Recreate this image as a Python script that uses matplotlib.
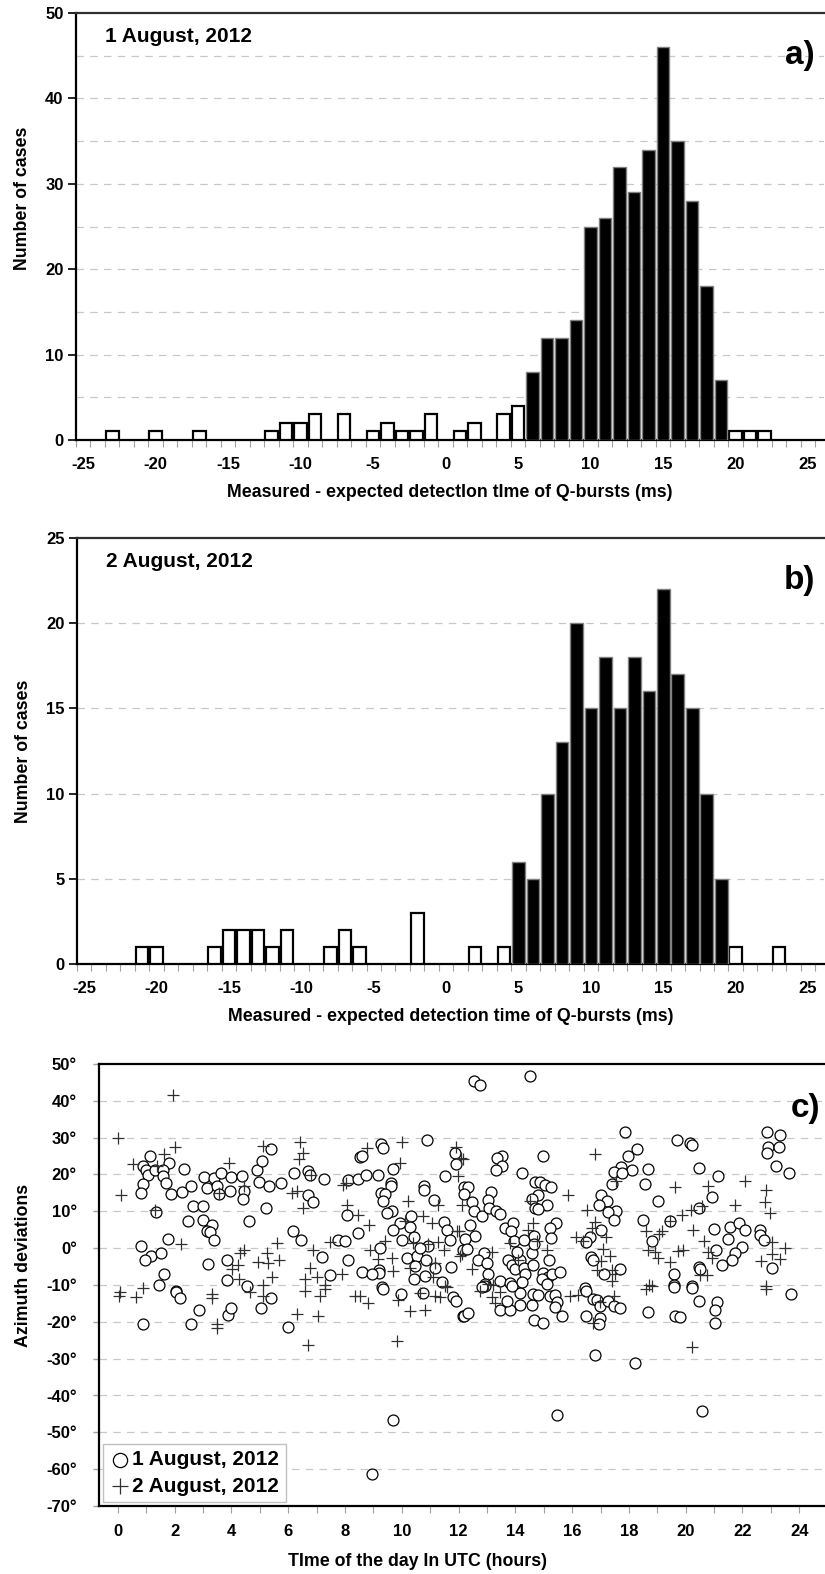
import matplotlib
matplotlib.use("Agg")
import matplotlib.pyplot as plt
import numpy as np

plt.rcParams['font.family'] = ['Liberation Sans', 'DejaVu Sans']
plt.rcParams['font.weight'] = 'bold'
plt.rcParams['axes.labelweight'] = 'bold'
plt.rcParams['axes.unicode_minus'] = False

# ---- panel a: 1 August 2012 ----
a_white_bins = [-23, -20, -17, -12, -11, -10, -9, -7, -5, -4, -3, -2, -1, 1, 2, 4, 5, 20, 21, 22]
a_white_counts = [1, 1, 1, 1, 2, 2, 3, 3, 1, 2, 1, 1, 3, 1, 2, 3, 4, 1, 1, 1]
a_black_bins = [6, 7, 8, 9, 10, 11, 12, 13, 14, 15, 16, 17, 18, 19]
a_black_counts = [8, 12, 12, 14, 25, 26, 32, 29, 34, 46, 35, 28, 18, 7]

# ---- panel b: 2 August 2012 ----
b_white_bins = [-21, -20, -16, -15, -14, -13, -12, -11, -8, -7, -6, -2, 2, 4, 20, 23]
b_white_counts = [1, 1, 1, 2, 2, 2, 1, 2, 1, 2, 1, 3, 1, 1, 1, 1]
b_black_bins = [5, 6, 7, 8, 9, 10, 11, 12, 13, 14, 15, 16, 17, 18, 19]
b_black_counts = [6, 5, 10, 13, 20, 15, 18, 15, 18, 16, 22, 17, 15, 10, 5]

x_ticks_ms = [-25, -20, -15, -10, -5, 0, 5, 10, 15, 20, 25]

# ---- panel c: azimuth deviations vs time of day ----
aug1_hour = [1.14, 1.81, 0.90, 0.98, 1.08, 1.31, 1.61, 1.61, 1.69, 0.90, 0.82, 1.88, 2.25, 2.57, 2.32,
             1.34, 2.64, 3.01, 2.49, 3.01, 3.33, 3.13, 3.25, 3.39, 3.05, 3.40, 3.64, 3.99, 4.36, 3.14,
             3.48, 3.58, 3.95, 4.45, 4.40, 4.92, 5.07, 5.39, 4.99, 5.33, 5.75, 5.21, 4.62, 0.82, 1.78,
             1.17, 0.96, 1.52, 1.64, 1.45, 2.05, 3.19, 3.84, 3.84, 4.54, 6.20, 6.71, 6.77, 7.28, 6.69,
             6.86, 6.16, 6.45, 7.18, 7.47, 7.77, 8.00, 8.12, 8.12, 8.47, 8.73, 8.53, 8.61, 9.27, 9.35,
             9.15, 9.68, 9.62, 9.61, 9.27, 9.41, 9.35, 9.65, 9.47, 8.06, 8.47, 10.88, 10.78, 10.78, 11.52,
             11.88, 11.91, 11.15, 10.33, 9.94, 10.29, 9.68, 10.44, 10.00, 11.50, 11.58, 11.70, 10.94, 9.23,
             10.17, 10.53, 10.64, 10.85, 10.47, 9.21, 9.20, 8.59, 8.94, 10.44, 10.82, 11.17, 11.41, 11.72,
             12.17, 12.20,
             12.56, 12.74, 14.51, 17.87, 19.69, 20.15, 20.21, 22.88, 23.32, 22.91, 23.29, 22.88, 23.18, 23.62,
             18.28, 17.96, 17.73, 18.10, 17.48, 17.75, 18.66, 18.55, 17.42, 17.02, 17.22, 16.96, 17.55, 17.28,
             17.48, 19.02, 18.49, 19.45, 20.48, 21.12, 20.92, 20.47, 21.01, 21.56, 21.86, 22.09, 21.48, 21.97,
             21.74, 21.62, 22.60, 22.62, 22.74, 23.03, 21.27, 21.06, 20.48, 20.51, 19.59, 19.59, 20.21, 18.83,
             16.63, 16.49, 17.00, 16.67, 16.72, 17.14, 17.67, 16.46, 14.99, 14.23, 13.52, 13.35, 13.52, 13.32,
             12.35, 12.21, 12.47, 12.53, 12.82, 13.15, 13.05, 13.09, 13.31, 13.46, 12.41, 12.58, 12.23, 12.29,
             12.88, 12.68, 13.02, 13.05, 12.94, 13.46, 13.82, 13.64, 13.93, 13.85, 13.97, 14.32, 13.73, 13.88,
             13.99, 14.17, 14.29, 14.34, 14.58, 14.64, 14.05, 14.70, 14.87, 15.05, 15.25, 14.81, 14.58, 15.11,
             14.70, 14.79, 15.44, 15.23, 15.25, 15.20, 14.66, 14.66, 14.99, 15.14, 15.28, 15.58, 14.95,
             0.90, 2.05, 2.19, 2.58, 2.86, 3.89, 3.98, 5.03, 5.39, 6.01, 9.29, 9.35, 9.97, 10.76, 11.82,
             11.90, 12.17, 9.68, 8.94,
             12.21, 12.35, 12.94, 12.82, 13.46, 13.82, 13.70, 14.17, 14.17, 14.58, 14.67, 14.99, 13.88, 14.23,
             14.64, 14.81, 15.11, 15.23, 15.38, 15.46, 15.38, 15.64, 16.48, 16.49, 16.72, 16.87, 16.99, 16.99,
             16.93, 17.26, 17.46, 17.67, 18.66, 19.60, 20.21, 20.48, 19.63, 19.80, 21.09, 21.03, 21.03, 23.71,
             16.79, 18.22, 15.48, 20.59]
aug1_dev = [25.0, 23.2, 22.3, 21.3, 19.9, 21.3, 21.1, 19.5, 17.7, 17.4, 15.0, 14.8, 15.2, 16.8, 21.4,
            9.8, 11.4, 11.4, 7.5, 7.7, 6.2, 4.6, 4.4, 2.2, 19.2, 19.0, 20.5, 19.3, 19.5, 16.3,
            16.8, 14.8, 15.6, 15.6, 13.3, 21.1, 23.7, 26.9, 17.9, 16.8, 17.7, 10.9, 7.5, 0.7, 2.5,
            -2.2, -3.1, -1.3, -7.1, -10.1, -11.5, -4.2, -3.3, -8.7, -10.3, 20.5, 21.0, 19.9, 18.7, 14.5,
            12.4, 4.6, 2.1, -2.4, -7.3, 2.3, 1.9, -3.1, 18.6, 18.7, 19.9, 24.7, 24.9, 28.2, 27.3,
            19.9, 21.4, 17.8, 16.8, 15.1, 14.8, 12.9, 10.0, 9.5, 8.9, 4.0, 29.5, 17.0, 15.9, 19.5,
            25.8, 22.9, 13.0, 8.6, 6.8, 5.8, 4.8, 3.1, 2.3, 7.1, 5.0, 2.3, 0.6, 0.1,
            -2.6, -2.2, 0.1, -3.1, -4.9, -5.9, -6.7, -6.5, -7.1, -8.5, -7.6, -5.3, -9.1, -5.1,
            -0.4, 16.5,
            45.3, 44.4, 46.8, 31.6, 29.5, 28.5, 28.0, 31.6, 30.7, 27.4, 27.4, 25.8, 22.4, 20.4,
            26.9, 25.0, 22.0, 21.3, 20.6, 20.5, 21.5, 17.4, 17.4, 14.3, 12.7, 11.8, 10.0, 9.7,
            7.7, 12.9, 7.7, 7.3, 21.7, 19.6, 13.9, 10.9, 5.3, 5.7, 6.7, 5.0, 2.5, 0.4,
            -1.4, -3.2, 4.9, 3.7, 2.3, -5.3, -4.7, -0.5, -5.1, -5.6, -6.9, -10.1, -10.3, 1.9,
            3.0, 1.6, 5.0, -2.4, -3.1, -7.1, -5.6, -10.7, 24.9, 20.5, 25.0, 24.4, 22.4, 21.3,
            16.6, 14.7, 12.4, 10.0, 8.6, 15.2, 13.0, 10.9, 10.0, 9.3, 6.4, 3.4, 2.5, -0.2,
            -1.3, -3.2, -4.1, -7.1, -9.8, -8.9, -9.4, 5.5, 6.8, 4.6, 1.9, 2.1, -3.1, -4.7,
            -5.6, -3.1, -5.3, -7.1, -1.3, -4.7, -1.1, 17.9, 17.9, 17.2, 16.5, 14.5, 13.3, 11.8,
            10.9, 10.5, 6.8, 5.5, 2.8, -3.3, 3.2, 1.2, -6.7, -7.7, -7.1, -6.4, -8.5,
            -20.5, -12.0, -13.5, -20.5, -16.9, -18.1, -16.2, -16.2, -13.5, -21.4, -10.5, -11.1, -12.4, -12.3, -13.2,
            -14.4, -18.5, -46.7, -61.3,
            -18.5, -17.6, -10.2, -10.6, -16.8, -16.8, -14.4, -15.3, -12.3, -15.3, -19.6, -20.4, -10.2, -9.3,
            -12.5, -12.6, -9.7, -12.9, -12.6, -14.7, -15.9, -18.3, -11.7, -18.3, -13.8, -14.2, -15.6, -18.9,
            -20.5, -14.4, -15.6, -16.2, -17.4, -10.6, -10.9, -14.4, -18.3, -18.7, -14.7, -16.9, -20.3, -12.4,
            -29.1, -31.1, -45.3, -44.2]

aug2_hour = [1.96, 0.00, 2.02, 1.64, 0.53, 1.37, 0.10, 1.31, 3.93, 3.58, 4.46, 2.23, 5.10, 6.42, 6.54,
             6.38, 6.12, 6.30, 6.54, 6.80, 5.60, 4.46, 4.30, 5.24, 5.69, 4.95, 5.30, 4.01, 4.25, 4.28,
             5.42, 5.13, 6.89, 6.77, 6.59, 7.00, 7.30, 7.89, 7.47, 8.03, 7.94, 8.08, 8.47, 8.86, 8.77,
             10.02, 9.94, 10.21, 8.88, 9.41, 9.18, 9.65, 9.70, 10.12, 10.76, 11.08, 11.29, 11.90, 12.10, 11.97,
             12.13, 11.93, 10.41, 10.94, 11.29, 11.50, 12.05, 10.29, 11.17, 11.11, 11.52, 0.90, 0.08,
             16.79, 15.85, 16.52, 16.79, 16.69, 17.55, 19.63, 20.78, 22.09, 22.83, 22.80, 22.97, 21.72, 20.59,
             20.19, 19.86, 19.45, 19.16, 18.59, 19.06, 20.25, 20.66, 16.13, 16.38, 17.20, 17.08, 17.34, 17.02,
             16.87, 17.40, 17.51, 18.66, 18.92, 19.02, 19.45, 19.72, 19.92, 20.77, 20.92, 20.51, 20.74, 23.03,
             23.50, 22.65, 23.03, 23.32, 22.82, 18.69, 13.17, 12.47, 12.11, 12.00, 12.17, 14.52, 14.64,
             14.46, 14.76, 15.11, 14.11, 13.82, 13.23,
             0.06, 0.64, 3.31, 3.31, 3.48, 3.48, 4.66, 5.13, 6.59, 6.30, 7.06, 6.71, 7.12, 7.30, 8.35,
             8.53, 8.80, 9.88, 9.82, 10.29, 10.82, 10.64, 11.17, 11.35, 11.58,
             12.76, 13.05, 13.17, 13.29, 13.46, 15.93, 16.22, 16.72, 16.99, 17.49, 17.40, 18.59, 18.80, 20.21,
             22.82]
aug2_dev = [41.7, 29.8, 27.6, 25.6, 22.9, 22.2, 14.4, 10.3, 23.1, 15.1, 16.8, 1.1, 27.7, 28.7, 25.8,
            24.2, 15.0, 15.4, 10.9, 19.9, 1.4, -0.4, -1.3, -1.3, -3.3, -3.8, -4.1, -5.6, -4.7, -8.3,
            -7.8, -10.1, -0.4, -5.3, -8.3, -7.7, -10.1, -7.1, 1.7, 17.7, 17.2, 11.8, 8.9, 6.4, 27.1,
            28.9, 23.1, 12.9, -0.5, 1.9, -3.0, -2.6, -6.2, 7.3, 8.8, 6.7, 11.6, 27.4, 24.4, 19.5,
            11.6, 4.6, 1.4, 1.0, 1.7, -0.4, -2.0, -5.3, -4.1, -7.7, -10.3, -10.7, -12.0,
            25.5, 14.5, 10.3, 7.0, 5.5, 18.1, 16.5, 16.8, 18.1, 15.7, 12.4, 9.5, 11.8, 11.4,
            10.3, 8.9, 7.3, 4.6, 4.6, 3.9, 4.9, 1.9, 3.1, 1.9, 3.1, -0.2, -2.2, -3.5,
            -5.8, -5.8, -7.1, -0.4, -1.0, -2.6, -3.8, -0.8, -0.4, -1.0, -2.6, -7.4, -7.4, 1.6,
            0.1, -3.5, -1.7, -2.9, -10.3, -10.1, -1.0, -5.6, -1.7, 4.6, 24.1, 12.7, 6.8,
            5.0, 1.9, -0.4, -3.2, 1.4, -10.1,
            -12.9, -13.3, -12.4, -13.5, -20.5, -21.7, -12.0, -12.9, -11.5, -17.8, -18.3, -26.4, -12.9, -11.1, -12.9,
            -12.9, -15.0, -14.1, -25.2, -17.1, -16.9, -12.3, -12.9, -13.3, -10.5,
            -11.5, -9.7, -13.3, -14.9, -12.0, -12.9, -12.6, -20.4, -14.7, -12.9, -9.0, -11.1, -10.2, -26.8,
            -11.1]
hour_ticks = list(range(0, 25, 2))
deg_ticks = list(range(-70, 51, 10))

fig = plt.figure(figsize=(8.25, 15.74), dpi=100)
W, H = 825.0, 1574.0


def add_ax(l, t, r, b):
    return fig.add_axes([l / W, 1 - b / H, (r - l) / W, (b - t) / H])


grid_kw = dict(color='#c8c8c8', linestyle=(0, (6, 5)), linewidth=0.9)


def hist_panel(ax, wb, wc, bb, bc, ymax, ystep, gridstep, date, tag, xlabel, ylab_y):
    ax.bar(wb, wc, width=0.87, color='white', edgecolor='black', linewidth=1.6, zorder=3)
    ax.bar(bb, bc, width=0.87, color='black', edgecolor='#808080', linewidth=1.0, zorder=3)
    ax.set_xlim(-25.5, 26.1)
    ax.set_ylim(0, ymax)
    ax.set_yticks(np.arange(0, ymax + 1, ystep))
    for g in np.arange(gridstep, ymax, gridstep):
        ax.axhline(g, zorder=1, **grid_kw)
    ax.set_xticks(x_ticks_ms)
    ax.set_xticks(np.arange(-25.5, 26, 1), minor=True)
    ax.tick_params(axis='x', which='major', length=0, labelsize=12, pad=12)
    ax.tick_params(axis='x', which='minor', length=5, color='#a0a0a0', width=0.8)
    ax.tick_params(axis='y', length=6, width=1.2, labelsize=12, pad=3)
    for s in ['left', 'bottom']:
        ax.spines[s].set_linewidth(1.6)
    ax.spines['top'].set_linewidth(1.6)
    ax.spines['top'].set_color('#303030')
    ax.spines['right'].set_visible(False)
    ax.set_ylabel('Number of cases', fontsize=12.8)
    ax.yaxis.set_label_coords(-0.06, ylab_y)
    ax.set_xlabel(xlabel, fontsize=12.8, labelpad=9)
    ax.text(0.039, 0.945, date, transform=ax.transAxes, fontsize=15, ha='left', va='center')
    ax.text(0.988, 0.9, tag, transform=ax.transAxes, fontsize=24, ha='right', va='center')


ax1 = add_ax(76, 13, 824, 440)
hist_panel(ax1, a_white_bins, a_white_counts, a_black_bins, a_black_counts, 50, 10, 5,
           '1 August, 2012', 'a)', 'Measured - expected detectIon tIme of Q-bursts (ms)', 0.567)

ax2 = add_ax(77, 538, 824, 964)
hist_panel(ax2, b_white_bins, b_white_counts, b_black_bins, b_black_counts, 25, 5, 5,
           '2 August, 2012', 'b)', 'Measured - expected detection time of Q-bursts (ms)', 0.5)

ax3 = add_ax(99, 1064, 824, 1506)
ax3.scatter(aug1_hour, aug1_dev, s=62, facecolors='white', edgecolors='black', linewidths=0.9,
            marker='o', zorder=3, label='1 August, 2012')
ax3.scatter(aug2_hour, aug2_dev, s=80, color='#303030', linewidths=0.9, marker='+', zorder=4,
            label='2 August, 2012')
ax3.set_xlim(-0.66, 24.87)
ax3.set_ylim(-70, 50)
ax3.set_yticks(deg_ticks)
ax3.set_yticklabels([f'{d}°' for d in deg_ticks])
for g in deg_ticks[1:-1]:
    ax3.axhline(g, zorder=1, **grid_kw)
ax3.set_xticks(hour_ticks)
ax3.set_xticks(range(0, 25), minor=True)
ax3.tick_params(axis='x', which='both', length=5, color='#a0a0a0', width=0.8, labelsize=12, pad=8)
ax3.tick_params(axis='y', length=4, width=1.0, color='#a0a0a0', labelsize=12, pad=12)
for s in ['left', 'bottom', 'top']:
    ax3.spines[s].set_linewidth(1.6)
ax3.spines['right'].set_visible(False)
ax3.set_ylabel('Azimuth deviations', fontsize=12.8)
ax3.yaxis.set_label_coords(-0.093, 0.545)
ax3.set_xlabel('TIme of the day In UTC (hours)', fontsize=12.8)
ax3.xaxis.set_label_coords(0.44, -0.107)
ax3.text(0.995, 0.9, 'c)', transform=ax3.transAxes, fontsize=24, ha='right', va='center')
leg = ax3.legend(loc='lower left', bbox_to_anchor=(0.0, 0.0), borderaxespad=0.2, fontsize=15,
                 fancybox=False, framealpha=1, edgecolor='#c0c0c0', handletextpad=0.1,
                 handlelength=1.0, borderpad=0.3, labelspacing=0.35, markerscale=1.3)
leg.get_frame().set_linewidth(1.0)

fig.savefig('out.png', dpi=100)
